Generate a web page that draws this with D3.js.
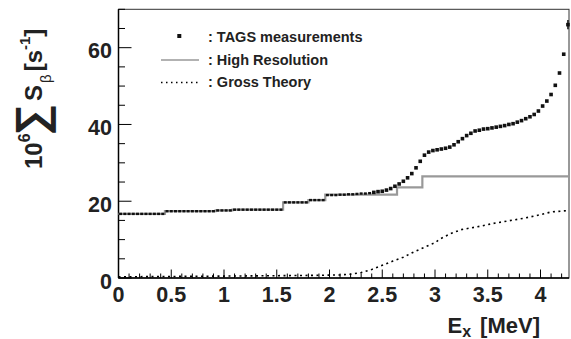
<!DOCTYPE html>
<html><head><meta charset="utf-8">
<script src="https://cdn.jsdelivr.net/npm/d3@7"></script>
<style>
body{margin:0;background:#fff;}
svg{display:block;font-family:"Liberation Sans",Arial,Helvetica,sans-serif;}
</style></head>
<body><svg id="c" width="571" height="339"></svg>
<script>
// ---- data ----
const tagsE = [0.02,0.06,0.10,0.14,0.18,0.22,0.26,0.30,0.34,0.38,0.42,0.46,0.50,0.54,0.58,0.62,0.66,0.70,0.74,0.78,0.82,0.86,0.90,0.94,0.98,1.02,1.06,1.10,1.14,1.18,1.22,1.26,1.30,1.34,1.38,1.42,1.46,1.50,1.54,1.58,1.62,1.66,1.70,1.74,1.78,1.82,1.86,1.90,1.94,1.98,2.02,2.06,2.10,2.14,2.18,2.22,2.26,2.30,2.34,2.38,2.42,2.46,2.50,2.54,2.58,2.62,2.66,2.70,2.74,2.78,2.82,2.86,2.90,2.94,2.98,3.02,3.06,3.10,3.14,3.18,3.22,3.26,3.30,3.34,3.38,3.42,3.46,3.50,3.54,3.58,3.62,3.66,3.70,3.74,3.78,3.82,3.86,3.90,3.94,3.98,4.02,4.06,4.10,4.14,4.18,4.22,4.26];
const tagsS = [16.7,16.7,16.7,16.7,16.7,16.7,16.7,16.7,16.7,16.7,16.7,
  17.4,17.4,17.4,17.4,17.4,17.4,17.4,17.4,17.4,17.4,17.4,17.4,
  17.6,17.6,17.6,17.6,
  17.8,17.8,17.8,17.8,17.8,17.8,17.8,17.8,17.8,17.8,17.8,17.8,
  19.7,19.7,19.7,19.7,19.7,19.7,
  20.3,20.3,20.3,20.3,
  21.6,21.6,21.6,21.7,21.7,21.8,21.8,21.9,22.0,22.0,22.1,
  22.3,22.5,22.6,22.9,23.3,23.9,24.5,25.2,26.1,27.2,28.7,30.4,32.0,32.8,33.2,
  33.4,33.6,33.8,34.1,34.7,35.5,36.3,37.1,37.7,38.3,38.5,38.8,38.9,39.1,39.3,
  39.5,39.7,40.0,40.2,40.6,41.0,41.5,42.0,42.6,43.5,44.8,46.1,47.8,50.2,53.4,58.3,66.0];
const lastErr = 1.2;  // error bar on the last TAGS point

const hrEdges = [0,0.44,0.92,1.08,1.56,1.80,1.96,2.64,2.88,4.27];
const hrS     = [16.7,17.4,17.6,17.8,19.7,20.3,21.7,23.6,26.5];

const gtE = [0,0.5,1.0,1.5,1.9,2.1,2.2,2.3,2.4,2.5,2.6,2.7,2.8,2.9,3.0,3.05,3.15,3.25,3.35,3.45,3.55,3.7,3.85,4.0,4.1,4.27];
const gtS = [0.3,0.4,0.5,0.6,0.7,0.8,1.0,1.4,2.2,3.3,4.4,5.4,6.8,8.0,9.2,10.2,11.6,12.6,13.1,13.6,14.2,14.9,15.6,16.5,17.2,17.6];

const xTicks = [0,0.5,1,1.5,2,2.5,3,3.5,4];
const xTickLabels = ["0","0.5","1","1.5","2","2.5","3","3.5","4"];
const yTicks = [0,20,40,60];
const yTickLabels = ["0","20","40","60"];
const legendLabels = [": TAGS measurements", ": High Resolution", ": Gross Theory"];

// ---- layout ----
const L=118.5, R=569, T=9.3, B=278;
const x = d3.scaleLinear().domain([0,4.27]).range([L,R]);
const y = d3.scaleLinear().domain([0,70]).range([B,T]);
const svg = d3.select("#c");

// frame
svg.append("rect").attr("x",L).attr("y",T).attr("width",R-L).attr("height",B-T)
  .attr("fill","none").attr("stroke","#333").attr("stroke-width",1);

// axes lines
svg.append("line").attr("x1",L).attr("x2",L).attr("y1",T).attr("y2",B).attr("stroke","#000").attr("stroke-width",1.5);
svg.append("line").attr("x1",L).attr("x2",R).attr("y1",B).attr("y2",B).attr("stroke","#000").attr("stroke-width",1.5);

// y ticks (inside)
const yMinor = d3.range(0,70.01,5);
svg.selectAll(".ytk").data(yMinor).enter().append("line")
  .attr("x1",L).attr("x2",d=>L+(d%20===0?13:6.5))
  .attr("y1",d=>y(d)).attr("y2",d=>y(d)).attr("stroke","#000").attr("stroke-width",1);
// x ticks (inside)
const xMinor = d3.range(0,4.2701,0.1);
svg.selectAll(".xtk").data(xMinor).enter().append("line")
  .attr("x1",d=>x(d)).attr("x2",d=>x(d))
  .attr("y1",B).attr("y2",d=>B-(Math.abs(d*2-Math.round(d*2))<1e-6?8.5:4.5))
  .attr("stroke","#000").attr("stroke-width",1);

// tick labels
svg.selectAll(".yl").data(yTicks).enter().append("text")
  .attr("x",112).attr("y",d=>y(d)+10.8).attr("text-anchor","end")
  .attr("font-size",21.5).attr("font-weight","bold").attr("fill","#222")
  .text((d,i)=>yTickLabels[i]);
svg.selectAll(".xl").data(xTicks).enter().append("text")
  .attr("x",d=>x(d)).attr("y",302).attr("text-anchor","middle")
  .attr("font-size",21.5).attr("font-weight","bold").attr("fill","#222")
  .text((d,i)=>xTickLabels[i]);

// x title
const xt = svg.append("text").attr("x",540).attr("y",333).attr("text-anchor","end")
  .attr("font-size",22).attr("font-weight","bold").attr("fill","#222");
xt.append("tspan").text("E");
xt.append("tspan").attr("font-size",16).attr("dy",4).text("x");
xt.append("tspan").attr("dy",-4).attr("dx",9).text("[MeV]");

// y title
const yt = svg.append("text").attr("transform","translate(42,169) rotate(-90)")
  .attr("font-size",24).attr("font-weight","bold").attr("fill","#222");
yt.append("tspan").text("10");
yt.append("tspan").attr("font-size",16).attr("dy",-12).text("6");
yt.append("tspan").attr("font-size",44).attr("dy",16).attr("dx",-2).text("\u2211");
yt.append("tspan").attr("dy",-4).attr("dx",3).text("S");
yt.append("tspan").attr("font-size",15).attr("font-weight","normal").attr("dy",9).attr("dx",2).text("\u03b2");
yt.append("tspan").attr("dy",-9).attr("dx",3).text("[s");
yt.append("tspan").attr("font-size",15).attr("dy",-12).text("-1");
yt.append("tspan").attr("dy",12).text("]");

// high resolution step line
const hrPts = [];
hrS.forEach((v,i)=>{hrPts.push([hrEdges[i],v]);hrPts.push([hrEdges[i+1],v]);});
svg.append("path").datum(hrPts)
  .attr("d",d3.line().x(d=>x(d[0])).y(d=>y(d[1])))
  .attr("fill","none").attr("stroke","#999").attr("stroke-width",2.2);

// gross theory
svg.append("path").datum(gtE.map((e,i)=>[e,gtS[i]]))
  .attr("d",d3.line().x(d=>x(d[0])).y(d=>y(d[1])))
  .attr("fill","none").attr("stroke","#000").attr("stroke-width",1.6)
  .attr("stroke-dasharray","2,3.5");

// TAGS markers
svg.selectAll(".pt").data(tagsE).enter().append("rect")
  .attr("x",(d,i)=>x(d)-(tagsS[i]<22.2?1.5:1.8)).attr("y",(d,i)=>y(tagsS[i])-(tagsS[i]<22.2?1.2:1.8))
  .attr("width",(d,i)=>tagsS[i]<22.2?3:3.6).attr("height",(d,i)=>tagsS[i]<22.2?2.4:3.6).attr("fill","#111");
const li = tagsE.length-1;
svg.append("line").attr("x1",x(tagsE[li])).attr("x2",x(tagsE[li]))
  .attr("y1",y(tagsS[li]-lastErr)).attr("y2",y(tagsS[li]+lastErr))
  .attr("stroke","#111").attr("stroke-width",1.5);

// legend
const lg = svg.append("g");
lg.append("rect").attr("x",179.3-2).attr("y",36-2).attr("width",4).attr("height",4).attr("fill","#111");
lg.append("line").attr("x1",161).attr("x2",199).attr("y1",60).attr("y2",60).attr("stroke","#999").attr("stroke-width",1.5);
lg.append("line").attr("x1",161).attr("x2",199).attr("y1",82.5).attr("y2",82.5).attr("stroke","#000").attr("stroke-width",1.3).attr("stroke-dasharray","1.5,3.5");
lg.selectAll("text").data(legendLabels).enter().append("text")
  .attr("x",208).attr("y",(d,i)=>[41.7,64.8,86.8][i])
  .attr("font-size",14.5).attr("font-weight","bold").attr("fill","#222").text(d=>d);
</script></body></html>
